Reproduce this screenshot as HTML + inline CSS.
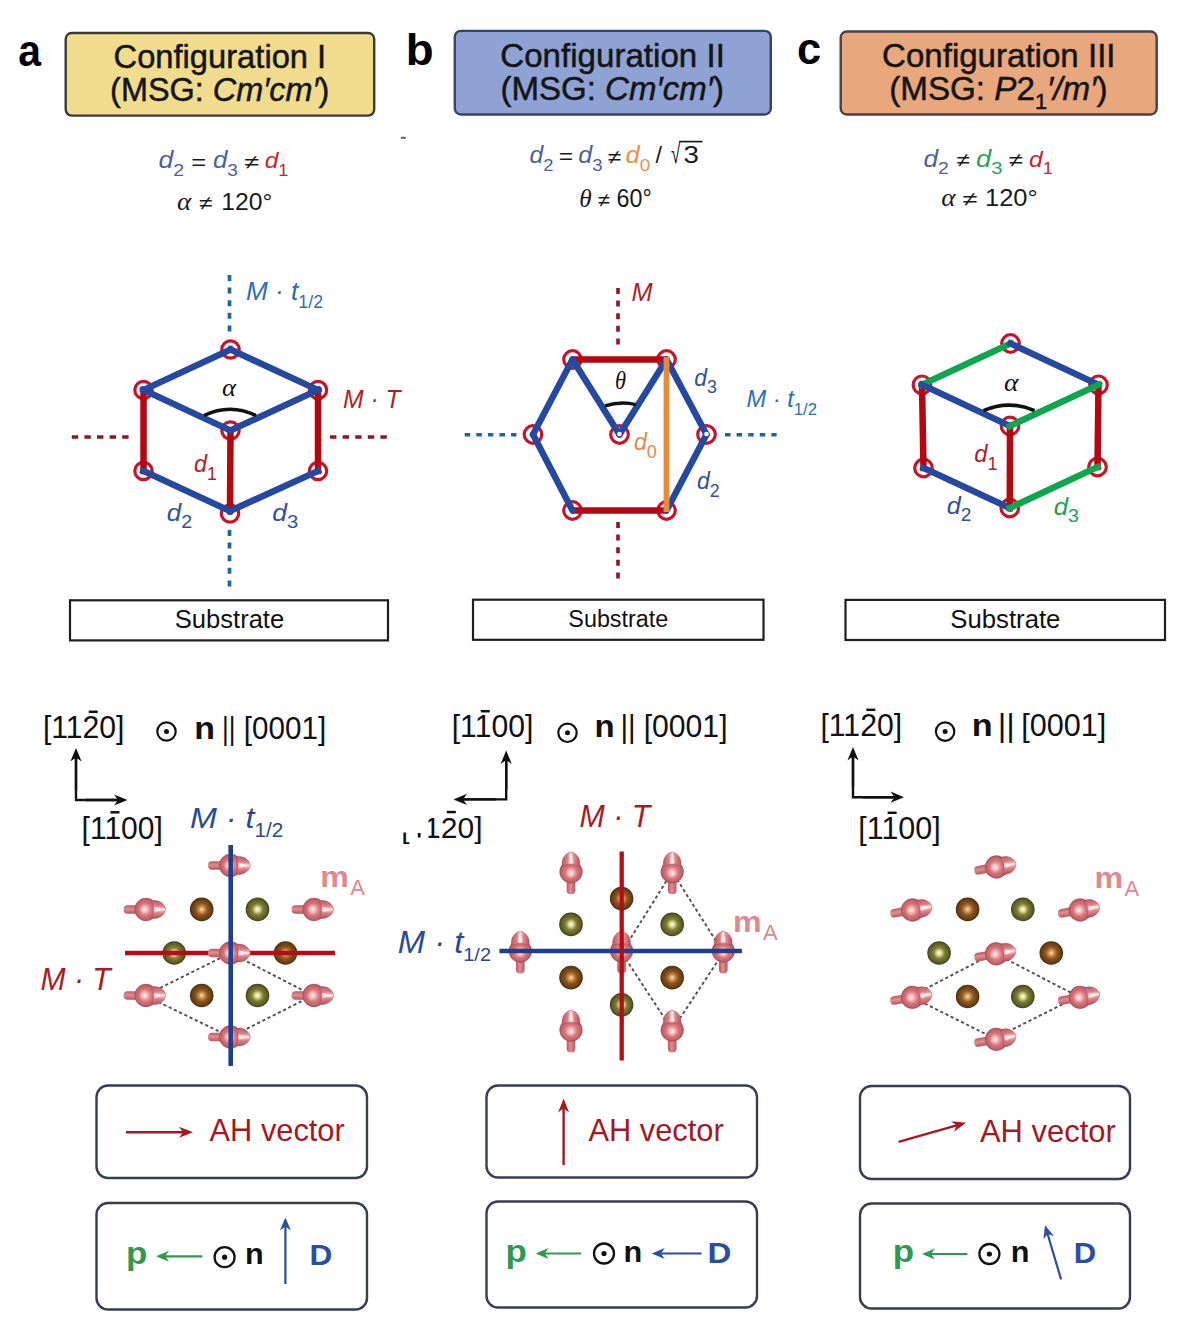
<!DOCTYPE html>
<html><head><meta charset="utf-8"><title>Configurations I-III</title>
<style>html,body{margin:0;padding:0;background:#fff;overflow:hidden} svg{display:block} text{white-space:pre}</style></head>
<body><svg width="1188" height="1334" viewBox="0 0 1188 1334">
<defs>
<radialGradient id="gpink" cx="0.5" cy="0.5" r="0.5" fx="0.42" fy="0.5">
 <stop offset="0" stop-color="#fffafa"/><stop offset="0.26" stop-color="#f4b6b8"/><stop offset="0.55" stop-color="#d87478"/><stop offset="0.85" stop-color="#c2626a"/><stop offset="1" stop-color="#a04c56"/></radialGradient>
<linearGradient id="gcyl" x1="0" y1="0" x2="0" y2="1"><stop offset="0" stop-color="#b85a62"/><stop offset="0.45" stop-color="#e48c90"/><stop offset="1" stop-color="#b05860"/></linearGradient>
<linearGradient id="gcone" x1="0" y1="0" x2="0" y2="1"><stop offset="0" stop-color="#b85a62"/><stop offset="0.3" stop-color="#dc8088"/><stop offset="0.5" stop-color="#fbd8d8"/><stop offset="0.7" stop-color="#dc8088"/><stop offset="1" stop-color="#b05660"/></linearGradient>
<radialGradient id="gbrown" cx="0.5" cy="0.5" r="0.5" fx="0.5" fy="0.5">
 <stop offset="0" stop-color="#ffe4b4"/><stop offset="0.2" stop-color="#d89c5a"/><stop offset="0.5" stop-color="#8c5620"/><stop offset="0.85" stop-color="#663e12"/><stop offset="1" stop-color="#4a2c0c"/></radialGradient>
<radialGradient id="golive" cx="0.5" cy="0.5" r="0.5" fx="0.5" fy="0.5">
 <stop offset="0" stop-color="#ffffd8"/><stop offset="0.2" stop-color="#dcdc98"/><stop offset="0.48" stop-color="#7e7e36"/><stop offset="0.85" stop-color="#5a5a24"/><stop offset="1" stop-color="#3e3e18"/></radialGradient>
</defs>
<rect width="1188" height="1334" fill="#fff"/>
<rect x="65.7" y="33.0" width="308.5" height="82.6" rx="6" ry="6" fill="#f1dc8e" stroke="#3a3a3a" stroke-width="2.4"/>
<rect x="454.8" y="30.9" width="316.0" height="83.6" rx="6" ry="6" fill="#8fa2d4" stroke="#34446a" stroke-width="2.4"/>
<rect x="840.7" y="31.5" width="316.0000000000001" height="83.0" rx="6" ry="6" fill="#e9a77e" stroke="#4a4048" stroke-width="2.4"/>
<text transform="matrix(0.9790 0 0 1 113.54 68.20)" font-family="'Liberation Sans', Arial, Helvetica, sans-serif" font-style="normal" font-weight="normal" font-size="33.4" fill="#151515" stroke="#151515" stroke-width="0.5">Configuration I</text>
<text transform="matrix(0.9705 0 0 1 110.09 100.70)" font-family="'Liberation Sans', Arial, Helvetica, sans-serif" font-style="normal" font-weight="normal" font-size="33.4" fill="#151515" stroke="#151515" stroke-width="0.5">(MSG: </text>
<text transform="matrix(0.9705 0 0 1 212.74 100.70)" font-family="'Liberation Sans', Arial, Helvetica, sans-serif" font-style="italic" font-weight="normal" font-size="33.4" fill="#151515" stroke="#151515" stroke-width="0.5">Cm′cm′</text>
<text transform="matrix(0.9705 0 0 1 318.52 100.70)" font-family="'Liberation Sans', Arial, Helvetica, sans-serif" font-style="normal" font-weight="normal" font-size="33.4" fill="#151515" stroke="#151515" stroke-width="0.5">)</text>
<text transform="matrix(0.9922 0 0 1 500.22 67.20)" font-family="'Liberation Sans', Arial, Helvetica, sans-serif" font-style="normal" font-weight="normal" font-size="33.4" fill="#151515" stroke="#151515" stroke-width="0.5">Configuration II</text>
<text transform="matrix(0.9895 0 0 1 500.45 99.80)" font-family="'Liberation Sans', Arial, Helvetica, sans-serif" font-style="normal" font-weight="normal" font-size="33.4" fill="#151515" stroke="#151515" stroke-width="0.5">(MSG: </text>
<text transform="matrix(0.9895 0 0 1 605.10 99.80)" font-family="'Liberation Sans', Arial, Helvetica, sans-serif" font-style="italic" font-weight="normal" font-size="33.4" fill="#151515" stroke="#151515" stroke-width="0.5">Cm′cm′</text>
<text transform="matrix(0.9895 0 0 1 712.94 99.80)" font-family="'Liberation Sans', Arial, Helvetica, sans-serif" font-style="normal" font-weight="normal" font-size="33.4" fill="#151515" stroke="#151515" stroke-width="0.5">)</text>
<text transform="matrix(0.9904 0 0 1 882.02 67.20)" font-family="'Liberation Sans', Arial, Helvetica, sans-serif" font-style="normal" font-weight="normal" font-size="33.4" fill="#151515" stroke="#151515" stroke-width="0.5">Configuration III</text>
<text transform="matrix(0.9937 0 0 1 889.24 99.80)" font-family="'Liberation Sans', Arial, Helvetica, sans-serif" font-style="normal" font-weight="normal" font-size="33.4" fill="#151515" stroke="#151515" stroke-width="0.5">(MSG: </text>
<text transform="matrix(0.9937 0 0 1 994.34 99.80)" font-family="'Liberation Sans', Arial, Helvetica, sans-serif" font-style="italic" font-weight="normal" font-size="33.4" fill="#151515" stroke="#151515" stroke-width="0.5">P</text>
<text transform="matrix(0.9937 0 0 1 1016.47 99.80)" font-family="'Liberation Sans', Arial, Helvetica, sans-serif" font-style="normal" font-weight="normal" font-size="33.4" fill="#151515" stroke="#151515" stroke-width="0.5">2</text>
<text transform="matrix(0.9937 0 0 1 1034.93 108.80)" font-family="'Liberation Sans', Arial, Helvetica, sans-serif" font-style="normal" font-weight="normal" font-size="22" fill="#151515" stroke="#151515" stroke-width="0.5">1</text>
<text transform="matrix(0.9937 0 0 1 1047.09 99.80)" font-family="'Liberation Sans', Arial, Helvetica, sans-serif" font-style="italic" font-weight="normal" font-size="33.4" fill="#151515" stroke="#151515" stroke-width="0.5">′/m′</text>
<text transform="matrix(0.9937 0 0 1 1096.41 99.80)" font-family="'Liberation Sans', Arial, Helvetica, sans-serif" font-style="normal" font-weight="normal" font-size="33.4" fill="#151515" stroke="#151515" stroke-width="0.5">)</text>
<text transform="matrix(0.9292 0 0 1 18.20 66.30)" font-family="'Liberation Sans', Arial, Helvetica, sans-serif" font-style="normal" font-weight="bold" font-size="44" fill="#000">a</text>
<text transform="matrix(1.0374 0 0 1 405.79 65.40)" font-family="'Liberation Sans', Arial, Helvetica, sans-serif" font-style="normal" font-weight="bold" font-size="44" fill="#000">b</text>
<text transform="matrix(0.9878 0 0 1 797.10 63.60)" font-family="'Liberation Sans', Arial, Helvetica, sans-serif" font-style="normal" font-weight="bold" font-size="44" fill="#000">c</text>
<rect x="400.8" y="136.8" width="5" height="2" fill="#666"/>
<text transform="matrix(1.1544 0 0 1 158.61 168.30)" font-family="'Liberation Sans', Arial, Helvetica, sans-serif" font-style="italic" font-weight="normal" font-size="23" fill="#4a62a0">d</text>
<text transform="matrix(1.1544 0 0 1 173.37 175.90)" font-family="'Liberation Sans', Arial, Helvetica, sans-serif" font-style="normal" font-weight="normal" font-size="17" fill="#4a62a0">2</text>
<text transform="matrix(1.1601 0 0 1 191.35 169.50)" font-family="'Liberation Sans', Arial, Helvetica, sans-serif" font-style="normal" font-weight="normal" font-size="22" fill="#1a1a1a">=</text>
<text transform="matrix(1.1243 0 0 1 212.93 168.30)" font-family="'Liberation Sans', Arial, Helvetica, sans-serif" font-style="italic" font-weight="normal" font-size="23" fill="#4a62a0">d</text>
<text transform="matrix(1.1243 0 0 1 227.31 175.90)" font-family="'Liberation Sans', Arial, Helvetica, sans-serif" font-style="normal" font-weight="normal" font-size="17" fill="#4a62a0">3</text>
<text transform="matrix(1.3688 0 0 1 244.43 168.80)" font-family="'Liberation Sans', Arial, Helvetica, sans-serif" font-style="normal" font-weight="normal" font-size="20" fill="#1a1a1a">≠</text>
<text transform="matrix(1.0707 0 0 1 264.67 168.30)" font-family="'Liberation Sans', Arial, Helvetica, sans-serif" font-style="italic" font-weight="normal" font-size="23" fill="#c42630">d</text>
<text transform="matrix(1.0707 0 0 1 278.37 175.90)" font-family="'Liberation Sans', Arial, Helvetica, sans-serif" font-style="normal" font-weight="normal" font-size="17" fill="#c42630">1</text>
<text transform="matrix(1.0865 0 0 1 177.09 210.10)" font-family="'Liberation Serif', 'Times New Roman', serif" font-style="italic" font-weight="normal" font-size="25" fill="#1a1a1a">α</text>
<text transform="matrix(1.2350 0 0 1 199.32 210.10)" font-family="'Liberation Sans', Arial, Helvetica, sans-serif" font-style="normal" font-weight="normal" font-size="20" fill="#1a1a1a">≠</text>
<text transform="matrix(1.0160 0 0 1 221.32 210.10)" font-family="'Liberation Sans', Arial, Helvetica, sans-serif" font-style="normal" font-weight="normal" font-size="24.3" fill="#1a1a1a">120°</text>
<text transform="matrix(1.0720 0 0 1 529.57 163.00)" font-family="'Liberation Sans', Arial, Helvetica, sans-serif" font-style="italic" font-weight="normal" font-size="23" fill="#4a62a0">d</text>
<text transform="matrix(1.0720 0 0 1 543.28 170.60)" font-family="'Liberation Sans', Arial, Helvetica, sans-serif" font-style="normal" font-weight="normal" font-size="17" fill="#4a62a0">2</text>
<text transform="matrix(1.1227 0 0 1 558.79 164.20)" font-family="'Liberation Sans', Arial, Helvetica, sans-serif" font-style="normal" font-weight="normal" font-size="22" fill="#1a1a1a">=</text>
<text transform="matrix(1.0905 0 0 1 578.35 163.00)" font-family="'Liberation Sans', Arial, Helvetica, sans-serif" font-style="italic" font-weight="normal" font-size="23" fill="#4a62a0">d</text>
<text transform="matrix(1.0905 0 0 1 592.30 170.60)" font-family="'Liberation Sans', Arial, Helvetica, sans-serif" font-style="normal" font-weight="normal" font-size="17" fill="#4a62a0">3</text>
<text transform="matrix(1.2350 0 0 1 608.02 163.50)" font-family="'Liberation Sans', Arial, Helvetica, sans-serif" font-style="normal" font-weight="normal" font-size="20" fill="#1a1a1a">≠</text>
<text transform="matrix(1.1150 0 0 1 625.54 163.00)" font-family="'Liberation Sans', Arial, Helvetica, sans-serif" font-style="italic" font-weight="normal" font-size="23" fill="#e8924e">d</text>
<text transform="matrix(1.1150 0 0 1 639.80 170.60)" font-family="'Liberation Sans', Arial, Helvetica, sans-serif" font-style="normal" font-weight="normal" font-size="17" fill="#e8924e">0</text>
<text transform="matrix(1.0172 0 0 1 655.50 163.00)" font-family="'Liberation Sans', Arial, Helvetica, sans-serif" font-style="normal" font-weight="normal" font-size="23" fill="#1a1a1a">/</text>
<text transform="matrix(0.6146 0 0 1 671.07 163.00)" font-family="'Liberation Sans', Arial, Helvetica, sans-serif" font-style="normal" font-weight="normal" font-size="28" fill="#1a1a1a">√</text>
<text transform="matrix(1.1513 0 0 1 683.45 163.00)" font-family="'Liberation Sans', Arial, Helvetica, sans-serif" font-style="normal" font-weight="normal" font-size="24" fill="#1a1a1a">3</text>
<line x1="679.2" y1="141.6" x2="702.5" y2="141.6" stroke="#1a1a1a" stroke-width="1.7" stroke-linecap="butt" />
<text transform="matrix(0.9731 0 0 1 579.36 207.30)" font-family="'Liberation Serif', 'Times New Roman', serif" font-style="italic" font-weight="normal" font-size="26" fill="#1a1a1a">θ</text>
<text transform="matrix(1.0909 0 0 1 597.71 207.30)" font-family="'Liberation Sans', Arial, Helvetica, sans-serif" font-style="normal" font-weight="normal" font-size="20" fill="#1a1a1a">≠</text>
<text transform="matrix(0.9343 0 0 1 616.52 207.30)" font-family="'Liberation Sans', Arial, Helvetica, sans-serif" font-style="normal" font-weight="normal" font-size="24.9" fill="#1a1a1a">60°</text>
<text transform="matrix(1.1399 0 0 1 923.42 166.50)" font-family="'Liberation Sans', Arial, Helvetica, sans-serif" font-style="italic" font-weight="normal" font-size="23" fill="#4a62a0">d</text>
<text transform="matrix(1.1399 0 0 1 938.00 174.10)" font-family="'Liberation Sans', Arial, Helvetica, sans-serif" font-style="normal" font-weight="normal" font-size="17" fill="#4a62a0">2</text>
<text transform="matrix(1.2144 0 0 1 956.13 167.00)" font-family="'Liberation Sans', Arial, Helvetica, sans-serif" font-style="normal" font-weight="normal" font-size="20" fill="#1a1a1a">≠</text>
<text transform="matrix(1.1870 0 0 1 975.98 166.50)" font-family="'Liberation Sans', Arial, Helvetica, sans-serif" font-style="italic" font-weight="normal" font-size="23" fill="#2ea060">d</text>
<text transform="matrix(1.1870 0 0 1 991.16 174.10)" font-family="'Liberation Sans', Arial, Helvetica, sans-serif" font-style="normal" font-weight="normal" font-size="17" fill="#2ea060">3</text>
<text transform="matrix(1.2967 0 0 1 1008.88 167.00)" font-family="'Liberation Sans', Arial, Helvetica, sans-serif" font-style="normal" font-weight="normal" font-size="20" fill="#1a1a1a">≠</text>
<text transform="matrix(1.0707 0 0 1 1029.07 166.50)" font-family="'Liberation Sans', Arial, Helvetica, sans-serif" font-style="italic" font-weight="normal" font-size="23" fill="#c42630">d</text>
<text transform="matrix(1.0707 0 0 1 1042.77 174.10)" font-family="'Liberation Sans', Arial, Helvetica, sans-serif" font-style="normal" font-weight="normal" font-size="17" fill="#c42630">1</text>
<text transform="matrix(1.0865 0 0 1 941.29 206.30)" font-family="'Liberation Serif', 'Times New Roman', serif" font-style="italic" font-weight="normal" font-size="25" fill="#1a1a1a">α</text>
<text transform="matrix(1.3688 0 0 1 962.73 206.30)" font-family="'Liberation Sans', Arial, Helvetica, sans-serif" font-style="normal" font-weight="normal" font-size="20" fill="#1a1a1a">≠</text>
<text transform="matrix(1.0479 0 0 1 985.06 206.30)" font-family="'Liberation Sans', Arial, Helvetica, sans-serif" font-style="normal" font-weight="normal" font-size="24.3" fill="#1a1a1a">120°</text>
<line x1="229.5" y1="275" x2="229.5" y2="332" stroke="#22659a" stroke-width="3.7" stroke-linecap="butt" stroke-dasharray="6,6.6" />
<line x1="229.5" y1="530" x2="229.5" y2="587" stroke="#22659a" stroke-width="3.7" stroke-linecap="butt" stroke-dasharray="6,6.6" />
<line x1="71.8" y1="437" x2="129" y2="437" stroke="#901424" stroke-width="3.6" stroke-linecap="butt" stroke-dasharray="6.4,6.2" />
<line x1="330" y1="437" x2="388" y2="437" stroke="#901424" stroke-width="3.6" stroke-linecap="butt" stroke-dasharray="6.4,6.2" />
<circle cx="230.5" cy="349.5" r="8.7" fill="none" stroke="#c8142a" stroke-width="3.2"/>
<circle cx="143.5" cy="390" r="8.7" fill="none" stroke="#c8142a" stroke-width="3.2"/>
<circle cx="318" cy="390" r="8.7" fill="none" stroke="#c8142a" stroke-width="3.2"/>
<circle cx="230.5" cy="430.5" r="8.7" fill="none" stroke="#c8142a" stroke-width="3.2"/>
<circle cx="143.5" cy="471" r="8.7" fill="none" stroke="#c8142a" stroke-width="3.2"/>
<circle cx="318" cy="471" r="8.7" fill="none" stroke="#c8142a" stroke-width="3.2"/>
<circle cx="230" cy="513.5" r="8.7" fill="none" stroke="#c8142a" stroke-width="3.2"/>
<line x1="143.5" y1="390" x2="143.5" y2="471" stroke="#b6060f" stroke-width="6.5" stroke-linecap="square" />
<line x1="230.5" y1="430.5" x2="230" y2="511" stroke="#b6060f" stroke-width="6.5" stroke-linecap="square" />
<line x1="318" y1="390" x2="318" y2="471" stroke="#b6060f" stroke-width="6.5" stroke-linecap="square" />
<line x1="230.5" y1="349.5" x2="143.5" y2="390" stroke="#24499f" stroke-width="6.5" stroke-linecap="square" />
<line x1="230.5" y1="349.5" x2="318" y2="390" stroke="#24499f" stroke-width="6.5" stroke-linecap="square" />
<line x1="143.5" y1="390" x2="230.5" y2="430.5" stroke="#24499f" stroke-width="6.5" stroke-linecap="square" />
<line x1="230.5" y1="430.5" x2="318" y2="390" stroke="#24499f" stroke-width="6.5" stroke-linecap="square" />
<line x1="143.5" y1="471" x2="230" y2="511" stroke="#24499f" stroke-width="6.5" stroke-linecap="square" />
<line x1="230" y1="511" x2="318" y2="471" stroke="#24499f" stroke-width="6.5" stroke-linecap="square" />
<path d="M204,415.5 Q230,403 256,415.5" fill="none" stroke="#111" stroke-width="3.5"/>
<text transform="matrix(1.0709 0 0 1 222.00 395.70)" font-family="'Liberation Serif', 'Times New Roman', serif" font-style="italic" font-weight="normal" font-size="25" fill="#111">α</text>
<text transform="matrix(1.0111 0 0 1 245.99 300.40)" font-family="'Liberation Sans', Arial, Helvetica, sans-serif" font-style="italic" font-weight="normal" font-size="25.9" fill="#2b70b2">M · t</text>
<text transform="matrix(1.0111 0 0 1 298.36 307.60)" font-family="'Liberation Sans', Arial, Helvetica, sans-serif" font-style="normal" font-weight="normal" font-size="17.6" fill="#2b70b2">1/2</text>
<text transform="matrix(0.9442 0 0 1 343.04 407.80)" font-family="'Liberation Sans', Arial, Helvetica, sans-serif" font-style="italic" font-weight="normal" font-size="26.2" fill="#b41c26">M · T</text>
<text transform="matrix(0.9926 0 0 1 194.01 472.40)" font-family="'Liberation Sans', Arial, Helvetica, sans-serif" font-style="italic" font-weight="normal" font-size="23.5" fill="#b81a28">d</text>
<text transform="matrix(0.9926 0 0 1 206.99 479.80)" font-family="'Liberation Sans', Arial, Helvetica, sans-serif" font-style="normal" font-weight="normal" font-size="17.9" fill="#b81a28">1</text>
<text transform="matrix(1.1016 0 0 1 166.83 520.70)" font-family="'Liberation Sans', Arial, Helvetica, sans-serif" font-style="italic" font-weight="normal" font-size="23.5" fill="#34509a">d</text>
<text transform="matrix(1.1016 0 0 1 181.23 528.10)" font-family="'Liberation Sans', Arial, Helvetica, sans-serif" font-style="normal" font-weight="normal" font-size="17.9" fill="#34509a">2</text>
<text transform="matrix(1.1284 0 0 1 272.21 520.70)" font-family="'Liberation Sans', Arial, Helvetica, sans-serif" font-style="italic" font-weight="normal" font-size="23.5" fill="#34509a">d</text>
<text transform="matrix(1.1284 0 0 1 286.95 528.10)" font-family="'Liberation Sans', Arial, Helvetica, sans-serif" font-style="normal" font-weight="normal" font-size="17.9" fill="#34509a">3</text>
<line x1="618" y1="288" x2="618" y2="347" stroke="#901424" stroke-width="3.6" stroke-linecap="butt" stroke-dasharray="6,6.6" />
<line x1="618" y1="522" x2="618" y2="579" stroke="#901424" stroke-width="3.6" stroke-linecap="butt" stroke-dasharray="6,6.6" />
<line x1="464.7" y1="434.7" x2="516.4" y2="434.7" stroke="#22659a" stroke-width="3.5" stroke-linecap="butt" stroke-dasharray="5.5,6.1" />
<line x1="725" y1="434.7" x2="776.7" y2="434.7" stroke="#22659a" stroke-width="3.5" stroke-linecap="butt" stroke-dasharray="5.5,6.1" />
<circle cx="572.5" cy="359.5" r="8.8" fill="none" stroke="#c8142a" stroke-width="3.2"/>
<circle cx="666.5" cy="359.5" r="8.8" fill="none" stroke="#c8142a" stroke-width="3.2"/>
<circle cx="533" cy="434.5" r="8.8" fill="none" stroke="#c8142a" stroke-width="3.2"/>
<circle cx="619.5" cy="434.5" r="8.8" fill="none" stroke="#c8142a" stroke-width="3.2"/>
<circle cx="706.5" cy="434.5" r="8.8" fill="none" stroke="#c8142a" stroke-width="3.2"/>
<circle cx="572.5" cy="510.5" r="8.8" fill="none" stroke="#c8142a" stroke-width="3.2"/>
<circle cx="666.5" cy="510.5" r="8.8" fill="none" stroke="#c8142a" stroke-width="3.2"/>
<line x1="572.5" y1="359.5" x2="666.5" y2="359.5" stroke="#b6060f" stroke-width="6.5" stroke-linecap="butt" />
<line x1="572.5" y1="510.5" x2="666.5" y2="510.5" stroke="#b6060f" stroke-width="6.5" stroke-linecap="butt" />
<line x1="572.5" y1="359.5" x2="533" y2="434.5" stroke="#24499f" stroke-width="6.5" stroke-linecap="round" />
<line x1="533" y1="434.5" x2="572.5" y2="510.5" stroke="#24499f" stroke-width="6.5" stroke-linecap="round" />
<line x1="572.5" y1="359.5" x2="619.5" y2="434.5" stroke="#24499f" stroke-width="6.5" stroke-linecap="round" />
<line x1="619.5" y1="434.5" x2="666.5" y2="359.5" stroke="#24499f" stroke-width="6.5" stroke-linecap="round" />
<line x1="666.5" y1="359.5" x2="706.5" y2="434.5" stroke="#24499f" stroke-width="6.5" stroke-linecap="round" />
<line x1="706.5" y1="434.5" x2="666.5" y2="510.5" stroke="#24499f" stroke-width="6.5" stroke-linecap="round" />
<circle cx="619.5" cy="434.0" r="2.3" fill="#fff"/>
<circle cx="706.5" cy="434.0" r="2.3" fill="#fff"/>
<line x1="666.5" y1="357" x2="666.5" y2="512" stroke="#e68a3c" stroke-width="5.8" stroke-linecap="butt" />
<path d="M605,405.8 Q620.5,401 636,404.6" fill="none" stroke="#111" stroke-width="3.5"/>
<text transform="matrix(0.8975 0 0 1 614.90 388.90)" font-family="'Liberation Serif', 'Times New Roman', serif" font-style="italic" font-weight="normal" font-size="25" fill="#111">θ</text>
<text transform="matrix(0.9884 0 0 1 631.62 300.60)" font-family="'Liberation Sans', Arial, Helvetica, sans-serif" font-style="italic" font-weight="normal" font-size="25.6" fill="#b41c26">M</text>
<text transform="matrix(0.9913 0 0 1 694.23 385.70)" font-family="'Liberation Sans', Arial, Helvetica, sans-serif" font-style="italic" font-weight="normal" font-size="23" fill="#34509a">d</text>
<text transform="matrix(0.9913 0 0 1 706.91 393.10)" font-family="'Liberation Sans', Arial, Helvetica, sans-serif" font-style="normal" font-weight="normal" font-size="17.9" fill="#34509a">3</text>
<text transform="matrix(0.9693 0 0 1 746.57 406.70)" font-family="'Liberation Sans', Arial, Helvetica, sans-serif" font-style="italic" font-weight="normal" font-size="24.4" fill="#2b70b2">M · t</text>
<text transform="matrix(0.9693 0 0 1 793.86 414.60)" font-family="'Liberation Sans', Arial, Helvetica, sans-serif" font-style="normal" font-weight="normal" font-size="17.2" fill="#2b70b2">1/2</text>
<text transform="matrix(1.0107 0 0 1 633.92 450.30)" font-family="'Liberation Sans', Arial, Helvetica, sans-serif" font-style="italic" font-weight="normal" font-size="23" fill="#e48a44">d</text>
<text transform="matrix(1.0107 0 0 1 646.85 457.70)" font-family="'Liberation Sans', Arial, Helvetica, sans-serif" font-style="normal" font-weight="normal" font-size="17.9" fill="#e48a44">0</text>
<text transform="matrix(0.9966 0 0 1 696.93 489.10)" font-family="'Liberation Sans', Arial, Helvetica, sans-serif" font-style="italic" font-weight="normal" font-size="23" fill="#34509a">d</text>
<text transform="matrix(0.9966 0 0 1 709.68 496.50)" font-family="'Liberation Sans', Arial, Helvetica, sans-serif" font-style="normal" font-weight="normal" font-size="17.9" fill="#34509a">2</text>
<circle cx="1010.5" cy="343.5" r="8.8" fill="none" stroke="#c8142a" stroke-width="3.2"/>
<circle cx="922" cy="384.8" r="8.8" fill="none" stroke="#c8142a" stroke-width="3.2"/>
<circle cx="1098.5" cy="384.8" r="8.8" fill="none" stroke="#c8142a" stroke-width="3.2"/>
<circle cx="1010" cy="426" r="8.8" fill="none" stroke="#c8142a" stroke-width="3.2"/>
<circle cx="923.5" cy="468" r="8.8" fill="none" stroke="#c8142a" stroke-width="3.2"/>
<circle cx="1097.5" cy="467" r="8.8" fill="none" stroke="#c8142a" stroke-width="3.2"/>
<circle cx="1009.8" cy="508" r="8.8" fill="none" stroke="#c8142a" stroke-width="3.2"/>
<line x1="922" y1="384.8" x2="923.5" y2="468" stroke="#b6060f" stroke-width="6.5" stroke-linecap="square" />
<line x1="1010" y1="426" x2="1009.8" y2="508" stroke="#b6060f" stroke-width="6.5" stroke-linecap="square" />
<line x1="1098.5" y1="384.8" x2="1097.5" y2="467" stroke="#b6060f" stroke-width="6.5" stroke-linecap="square" />
<line x1="922" y1="384.8" x2="1010.5" y2="343.5" stroke="#0ca64c" stroke-width="6.5" stroke-linecap="square" />
<line x1="1010.5" y1="343.5" x2="1098.5" y2="384.8" stroke="#24499f" stroke-width="6.5" stroke-linecap="square" />
<line x1="922" y1="384.8" x2="1010" y2="426" stroke="#24499f" stroke-width="6.5" stroke-linecap="square" />
<line x1="1010" y1="426" x2="1098.5" y2="384.8" stroke="#0ca64c" stroke-width="6.5" stroke-linecap="square" />
<line x1="923.5" y1="468" x2="1009.8" y2="508" stroke="#24499f" stroke-width="6.5" stroke-linecap="square" />
<line x1="1009.8" y1="508" x2="1097.5" y2="467" stroke="#0ca64c" stroke-width="6.5" stroke-linecap="square" />
<path d="M983.5,410.6 Q1009,399.5 1034.5,410.6" fill="none" stroke="#111" stroke-width="3.7"/>
<text transform="matrix(1.1022 0 0 1 1004.08 391.30)" font-family="'Liberation Serif', 'Times New Roman', serif" font-style="italic" font-weight="normal" font-size="25" fill="#111">α</text>
<text transform="matrix(1.0113 0 0 1 974.30 462.30)" font-family="'Liberation Sans', Arial, Helvetica, sans-serif" font-style="italic" font-weight="normal" font-size="23.5" fill="#b81a28">d</text>
<text transform="matrix(1.0113 0 0 1 987.52 469.70)" font-family="'Liberation Sans', Arial, Helvetica, sans-serif" font-style="normal" font-weight="normal" font-size="17.9" fill="#b81a28">1</text>
<text transform="matrix(1.0735 0 0 1 946.65 513.50)" font-family="'Liberation Sans', Arial, Helvetica, sans-serif" font-style="italic" font-weight="normal" font-size="23.5" fill="#34509a">d</text>
<text transform="matrix(1.0735 0 0 1 960.68 520.90)" font-family="'Liberation Sans', Arial, Helvetica, sans-serif" font-style="normal" font-weight="normal" font-size="17.9" fill="#34509a">2</text>
<text transform="matrix(1.0958 0 0 1 1053.73 514.80)" font-family="'Liberation Sans', Arial, Helvetica, sans-serif" font-style="italic" font-weight="normal" font-size="23.5" fill="#22a055">d</text>
<text transform="matrix(1.0958 0 0 1 1068.05 522.20)" font-family="'Liberation Sans', Arial, Helvetica, sans-serif" font-style="normal" font-weight="normal" font-size="17.9" fill="#22a055">3</text>
<rect x="70" y="600.3" width="318" height="40.10000000000002" fill="#fff" stroke="#1e1e1e" stroke-width="2.2"/>
<rect x="473" y="599.7" width="290.5" height="40.09999999999991" fill="#fff" stroke="#1e1e1e" stroke-width="2.2"/>
<rect x="845.5" y="599.9" width="319.5" height="40.10000000000002" fill="#fff" stroke="#1e1e1e" stroke-width="2.2"/>
<text transform="matrix(1.0233 0 0 1 174.74 628.00)" font-family="'Liberation Sans', Arial, Helvetica, sans-serif" font-style="normal" font-weight="normal" font-size="25" fill="#111">Substrate</text>
<text transform="matrix(0.9497 0 0 1 568.34 627.00)" font-family="'Liberation Sans', Arial, Helvetica, sans-serif" font-style="normal" font-weight="normal" font-size="24.6" fill="#111">Substrate</text>
<text transform="matrix(1.0290 0 0 1 950.33 627.80)" font-family="'Liberation Sans', Arial, Helvetica, sans-serif" font-style="normal" font-weight="normal" font-size="25" fill="#111">Substrate</text>
<text transform="matrix(0.9599 0 0 1 42.95 738.00)" font-family="'Liberation Sans', Arial, Helvetica, sans-serif" font-style="normal" font-weight="normal" font-size="31.4" fill="#111">[1120]</text>
<line x1="88.73120140688634" y1="711.7968" x2="97.73120140688634" y2="711.7968" stroke="#111" stroke-width="2.5" stroke-linecap="butt" />
<circle cx="166.5" cy="731.5" r="9.2" fill="none" stroke="#111" stroke-width="2.2"/><circle cx="166.5" cy="731.5" r="2.5" fill="#111"/>
<text transform="matrix(1.0816 0 0 1 194.36 738.50)" font-family="'Liberation Sans', Arial, Helvetica, sans-serif" font-style="normal" font-weight="bold" font-size="31.4" fill="#111">n</text>
<text transform="matrix(0.8223 0 0 1 222.09 738.50)" font-family="'Liberation Sans', Arial, Helvetica, sans-serif" font-style="normal" font-weight="normal" font-size="31.4" fill="#111">||</text>
<text transform="matrix(0.9442 0 0 1 243.79 738.50)" font-family="'Liberation Sans', Arial, Helvetica, sans-serif" font-style="normal" font-weight="normal" font-size="31.4" fill="#111">[0001]</text>
<path d="M76,756 L76,800 L119.5,800" fill="none" stroke="#111" stroke-width="2.4" stroke-linejoin="miter"/>
<line x1="76.00" y1="790.00" x2="76.00" y2="756.45" stroke="#111" stroke-width="2.4"/>
<path d="M76.00,748.00 L81.60,761.50 L76.00,757.45 L70.40,761.50 Z" fill="#111"/>
<line x1="86.00" y1="800.00" x2="119.05" y2="800.00" stroke="#111" stroke-width="2.4"/>
<path d="M127.50,800.00 L114.00,805.60 L118.05,800.00 L114.00,794.40 Z" fill="#111"/>
<text transform="matrix(0.9575 0 0 1 81.56 838.50)" font-family="'Liberation Sans', Arial, Helvetica, sans-serif" font-style="normal" font-weight="normal" font-size="31.4" fill="#111">[1100]</text>
<line x1="110.48988337652722" y1="812.2968" x2="119.48988337652722" y2="812.2968" stroke="#111" stroke-width="2.5" stroke-linecap="butt" />
<text transform="matrix(0.9599 0 0 1 451.75 737.40)" font-family="'Liberation Sans', Arial, Helvetica, sans-serif" font-style="normal" font-weight="normal" font-size="31.4" fill="#111">[1100]</text>
<line x1="480.7687985931136" y1="711.1967999999999" x2="489.7687985931136" y2="711.1967999999999" stroke="#111" stroke-width="2.5" stroke-linecap="butt" />
<circle cx="567.5" cy="732.8" r="9.2" fill="none" stroke="#111" stroke-width="2.2"/><circle cx="567.5" cy="732.8" r="2.5" fill="#111"/>
<text transform="matrix(1.0486 0 0 1 594.43 737.40)" font-family="'Liberation Sans', Arial, Helvetica, sans-serif" font-style="normal" font-weight="bold" font-size="31.4" fill="#111">n</text>
<text transform="matrix(0.9344 0 0 1 620.38 737.40)" font-family="'Liberation Sans', Arial, Helvetica, sans-serif" font-style="normal" font-weight="normal" font-size="31.4" fill="#111">||</text>
<text transform="matrix(0.9611 0 0 1 643.65 737.40)" font-family="'Liberation Sans', Arial, Helvetica, sans-serif" font-style="normal" font-weight="normal" font-size="31.4" fill="#111">[0001]</text>
<path d="M506.2,758.5 L506.2,799.4 L461.5,799.4" fill="none" stroke="#111" stroke-width="2.4" stroke-linejoin="miter"/>
<line x1="506.20" y1="789.40" x2="506.20" y2="758.95" stroke="#111" stroke-width="2.4"/>
<path d="M506.20,750.50 L511.80,764.00 L506.20,759.95 L500.60,764.00 Z" fill="#111"/>
<line x1="496.20" y1="799.40" x2="461.95" y2="799.40" stroke="#111" stroke-width="2.4"/>
<path d="M453.50,799.40 L467.00,793.80 L462.95,799.40 L467.00,805.00 Z" fill="#111"/>
<text transform="matrix(0.9910 0 0 1 401.26 837.50)" font-family="'Liberation Sans', Arial, Helvetica, sans-serif" font-style="normal" font-weight="normal" font-size="30.3" fill="#111">[1120]</text>
<line x1="446.84957423176604" y1="812.0536" x2="455.84957423176604" y2="812.0536" stroke="#111" stroke-width="2.5" stroke-linecap="butt" />
<rect x="399" y="806" width="29.5" height="26.5" fill="#fff"/>
<rect x="409.6" y="830" width="19" height="10" fill="#fff"/>
<rect x="417.8" y="833" width="2.8" height="4.5" fill="#111"/>
<text transform="matrix(0.9611 0 0 1 820.45 736.00)" font-family="'Liberation Sans', Arial, Helvetica, sans-serif" font-style="normal" font-weight="normal" font-size="31.4" fill="#111">[1120]</text>
<line x1="866.2917437985932" y1="709.7968" x2="875.2917437985932" y2="709.7968" stroke="#111" stroke-width="2.5" stroke-linecap="butt" />
<circle cx="945.1" cy="731.6" r="9.2" fill="none" stroke="#111" stroke-width="2.2"/><circle cx="945.1" cy="731.6" r="2.5" fill="#111"/>
<text transform="matrix(1.0881 0 0 1 971.85 736.00)" font-family="'Liberation Sans', Arial, Helvetica, sans-serif" font-style="normal" font-weight="bold" font-size="31.4" fill="#111">n</text>
<text transform="matrix(1.0559 0 0 1 997.74 736.00)" font-family="'Liberation Sans', Arial, Helvetica, sans-serif" font-style="normal" font-weight="normal" font-size="31.4" fill="#111">||</text>
<text transform="matrix(0.9756 0 0 1 1021.22 736.00)" font-family="'Liberation Sans', Arial, Helvetica, sans-serif" font-style="normal" font-weight="normal" font-size="31.4" fill="#111">[0001]</text>
<path d="M853,755 L853,797.2 L896,797.2" fill="none" stroke="#111" stroke-width="2.4" stroke-linejoin="miter"/>
<line x1="853.00" y1="787.20" x2="853.00" y2="755.45" stroke="#111" stroke-width="2.4"/>
<path d="M853.00,747.00 L858.60,760.50 L853.00,756.45 L847.40,760.50 Z" fill="#111"/>
<line x1="863.00" y1="797.20" x2="895.55" y2="797.20" stroke="#111" stroke-width="2.4"/>
<path d="M904.00,797.20 L890.50,802.80 L894.55,797.20 L890.50,791.60 Z" fill="#111"/>
<text transform="matrix(0.9707 0 0 1 858.23 839.00)" font-family="'Liberation Sans', Arial, Helvetica, sans-serif" font-style="normal" font-weight="normal" font-size="31.4" fill="#111">[1100]</text>
<line x1="887.6239170677527" y1="812.7968" x2="896.6239170677527" y2="812.7968" stroke="#111" stroke-width="2.5" stroke-linecap="butt" />
<path d="M230.5,953 L145,995.5 L230.5,1037 L313,995.5 L230.5,953" fill="none" stroke="#505050" stroke-width="1.9" stroke-dasharray="3.2,2.6"/>
<circle cx="201.7" cy="909.4" r="11.8" fill="url(#gbrown)"/>
<circle cx="285.5" cy="953" r="11.8" fill="url(#gbrown)"/>
<circle cx="201.7" cy="995.5" r="11.8" fill="url(#gbrown)"/>
<circle cx="257.5" cy="909.4" r="11.8" fill="url(#golive)"/>
<circle cx="174.2" cy="953" r="11.8" fill="url(#golive)"/>
<circle cx="257.5" cy="995.5" r="11.8" fill="url(#golive)"/>
<g transform="translate(230.5,865.5) rotate(0)"><rect x="-22.5" y="-4.3" width="16" height="8.6" rx="4" fill="url(#gcyl)"/><circle cx="0" cy="0" r="11.4" fill="url(#gpink)" stroke="#a85058" stroke-width="0.6" stroke-opacity="0.6"/><path d="M5.5,-8.4 C11,-10.2 18.5,-7 19.8,0 C18.5,7 11,10.2 5.5,8.4 Q9.5,0 5.5,-8.4Z" fill="url(#gcone)" stroke="#a04a55" stroke-width="0.7" stroke-opacity="0.7"/><path d="M9,-2.2 L19.6,0 L9,2.2 Z" fill="#fff4f2" opacity="0.9"/></g>
<g transform="translate(146,909.5) rotate(0)"><rect x="-22.5" y="-4.3" width="16" height="8.6" rx="4" fill="url(#gcyl)"/><circle cx="0" cy="0" r="11.4" fill="url(#gpink)" stroke="#a85058" stroke-width="0.6" stroke-opacity="0.6"/><path d="M5.5,-8.4 C11,-10.2 18.5,-7 19.8,0 C18.5,7 11,10.2 5.5,8.4 Q9.5,0 5.5,-8.4Z" fill="url(#gcone)" stroke="#a04a55" stroke-width="0.7" stroke-opacity="0.7"/><path d="M9,-2.2 L19.6,0 L9,2.2 Z" fill="#fff4f2" opacity="0.9"/></g>
<g transform="translate(314,909.5) rotate(0)"><rect x="-22.5" y="-4.3" width="16" height="8.6" rx="4" fill="url(#gcyl)"/><circle cx="0" cy="0" r="11.4" fill="url(#gpink)" stroke="#a85058" stroke-width="0.6" stroke-opacity="0.6"/><path d="M5.5,-8.4 C11,-10.2 18.5,-7 19.8,0 C18.5,7 11,10.2 5.5,8.4 Q9.5,0 5.5,-8.4Z" fill="url(#gcone)" stroke="#a04a55" stroke-width="0.7" stroke-opacity="0.7"/><path d="M9,-2.2 L19.6,0 L9,2.2 Z" fill="#fff4f2" opacity="0.9"/></g>
<g transform="translate(146,995.5) rotate(0)"><rect x="-22.5" y="-4.3" width="16" height="8.6" rx="4" fill="url(#gcyl)"/><circle cx="0" cy="0" r="11.4" fill="url(#gpink)" stroke="#a85058" stroke-width="0.6" stroke-opacity="0.6"/><path d="M5.5,-8.4 C11,-10.2 18.5,-7 19.8,0 C18.5,7 11,10.2 5.5,8.4 Q9.5,0 5.5,-8.4Z" fill="url(#gcone)" stroke="#a04a55" stroke-width="0.7" stroke-opacity="0.7"/><path d="M9,-2.2 L19.6,0 L9,2.2 Z" fill="#fff4f2" opacity="0.9"/></g>
<g transform="translate(314,995.5) rotate(0)"><rect x="-22.5" y="-4.3" width="16" height="8.6" rx="4" fill="url(#gcyl)"/><circle cx="0" cy="0" r="11.4" fill="url(#gpink)" stroke="#a85058" stroke-width="0.6" stroke-opacity="0.6"/><path d="M5.5,-8.4 C11,-10.2 18.5,-7 19.8,0 C18.5,7 11,10.2 5.5,8.4 Q9.5,0 5.5,-8.4Z" fill="url(#gcone)" stroke="#a04a55" stroke-width="0.7" stroke-opacity="0.7"/><path d="M9,-2.2 L19.6,0 L9,2.2 Z" fill="#fff4f2" opacity="0.9"/></g>
<g transform="translate(230.5,1037) rotate(0)"><rect x="-22.5" y="-4.3" width="16" height="8.6" rx="4" fill="url(#gcyl)"/><circle cx="0" cy="0" r="11.4" fill="url(#gpink)" stroke="#a85058" stroke-width="0.6" stroke-opacity="0.6"/><path d="M5.5,-8.4 C11,-10.2 18.5,-7 19.8,0 C18.5,7 11,10.2 5.5,8.4 Q9.5,0 5.5,-8.4Z" fill="url(#gcone)" stroke="#a04a55" stroke-width="0.7" stroke-opacity="0.7"/><path d="M9,-2.2 L19.6,0 L9,2.2 Z" fill="#fff4f2" opacity="0.9"/></g>
<line x1="125" y1="953" x2="335" y2="953" stroke="#ba0a14" stroke-width="4.3" stroke-linecap="butt" />
<g transform="translate(230.5,953) rotate(0)"><rect x="-22.5" y="-4.3" width="16" height="8.6" rx="4" fill="url(#gcyl)"/><circle cx="0" cy="0" r="11.4" fill="url(#gpink)" stroke="#a85058" stroke-width="0.6" stroke-opacity="0.6"/><path d="M5.5,-8.4 C11,-10.2 18.5,-7 19.8,0 C18.5,7 11,10.2 5.5,8.4 Q9.5,0 5.5,-8.4Z" fill="url(#gcone)" stroke="#a04a55" stroke-width="0.7" stroke-opacity="0.7"/><path d="M9,-2.2 L19.6,0 L9,2.2 Z" fill="#fff4f2" opacity="0.9"/></g>
<line x1="230.7" y1="845" x2="230.7" y2="1066" stroke="#1e3f8f" stroke-width="4.6" stroke-linecap="butt" />
<text transform="matrix(1.0614 0 0 1 189.91 827.80)" font-family="'Liberation Sans', Arial, Helvetica, sans-serif" font-style="italic" font-weight="normal" font-size="30.4" fill="#2a4a90">M · t</text>
<text transform="matrix(1.0614 0 0 1 254.43 836.60)" font-family="'Liberation Sans', Arial, Helvetica, sans-serif" font-style="normal" font-weight="normal" font-size="19.6" fill="#2a4a90">1/2</text>
<text transform="matrix(0.9471 0 0 1 40.47 990.30)" font-family="'Liberation Sans', Arial, Helvetica, sans-serif" font-style="italic" font-weight="normal" font-size="31.8" fill="#b01820">M · T</text>
<text transform="matrix(1.0728 0 0 1 320.28 886.80)" font-family="'Liberation Sans', Arial, Helvetica, sans-serif" font-style="normal" font-weight="bold" font-size="30" fill="#e08890">m</text>
<text transform="matrix(1.0000 0 0 1 350.35 894.60)" font-family="'Liberation Sans', Arial, Helvetica, sans-serif" font-style="normal" font-weight="normal" font-size="22" fill="#e08890">A</text>
<path d="M621.6,952.6 L672.2,871.8 L723.3,952.6 L672.2,1030 L621.6,952.6" fill="none" stroke="#505050" stroke-width="1.9" stroke-dasharray="3.2,2.6"/>
<circle cx="621.6" cy="898.6" r="11.8" fill="url(#gbrown)"/>
<circle cx="571" cy="977.6" r="11.8" fill="url(#gbrown)"/>
<circle cx="672.2" cy="977.6" r="11.8" fill="url(#gbrown)"/>
<circle cx="571" cy="924.4" r="11.8" fill="url(#golive)"/>
<circle cx="672.2" cy="924.4" r="11.8" fill="url(#golive)"/>
<circle cx="621.6" cy="1004.8" r="11.8" fill="url(#golive)"/>
<g transform="translate(571,871.8) rotate(-90)"><rect x="-22.5" y="-4.3" width="16" height="8.6" rx="4" fill="url(#gcyl)"/><circle cx="0" cy="0" r="11.4" fill="url(#gpink)" stroke="#a85058" stroke-width="0.6" stroke-opacity="0.6"/><path d="M5.5,-8.4 C11,-10.2 18.5,-7 19.8,0 C18.5,7 11,10.2 5.5,8.4 Q9.5,0 5.5,-8.4Z" fill="url(#gcone)" stroke="#a04a55" stroke-width="0.7" stroke-opacity="0.7"/><path d="M9,-2.2 L19.6,0 L9,2.2 Z" fill="#fff4f2" opacity="0.9"/></g>
<g transform="translate(672.2,871.8) rotate(-90)"><rect x="-22.5" y="-4.3" width="16" height="8.6" rx="4" fill="url(#gcyl)"/><circle cx="0" cy="0" r="11.4" fill="url(#gpink)" stroke="#a85058" stroke-width="0.6" stroke-opacity="0.6"/><path d="M5.5,-8.4 C11,-10.2 18.5,-7 19.8,0 C18.5,7 11,10.2 5.5,8.4 Q9.5,0 5.5,-8.4Z" fill="url(#gcone)" stroke="#a04a55" stroke-width="0.7" stroke-opacity="0.7"/><path d="M9,-2.2 L19.6,0 L9,2.2 Z" fill="#fff4f2" opacity="0.9"/></g>
<g transform="translate(520.3,951) rotate(-90)"><rect x="-22.5" y="-4.3" width="16" height="8.6" rx="4" fill="url(#gcyl)"/><circle cx="0" cy="0" r="11.4" fill="url(#gpink)" stroke="#a85058" stroke-width="0.6" stroke-opacity="0.6"/><path d="M5.5,-8.4 C11,-10.2 18.5,-7 19.8,0 C18.5,7 11,10.2 5.5,8.4 Q9.5,0 5.5,-8.4Z" fill="url(#gcone)" stroke="#a04a55" stroke-width="0.7" stroke-opacity="0.7"/><path d="M9,-2.2 L19.6,0 L9,2.2 Z" fill="#fff4f2" opacity="0.9"/></g>
<g transform="translate(723.3,951) rotate(-90)"><rect x="-22.5" y="-4.3" width="16" height="8.6" rx="4" fill="url(#gcyl)"/><circle cx="0" cy="0" r="11.4" fill="url(#gpink)" stroke="#a85058" stroke-width="0.6" stroke-opacity="0.6"/><path d="M5.5,-8.4 C11,-10.2 18.5,-7 19.8,0 C18.5,7 11,10.2 5.5,8.4 Q9.5,0 5.5,-8.4Z" fill="url(#gcone)" stroke="#a04a55" stroke-width="0.7" stroke-opacity="0.7"/><path d="M9,-2.2 L19.6,0 L9,2.2 Z" fill="#fff4f2" opacity="0.9"/></g>
<g transform="translate(571,1030) rotate(-90)"><rect x="-22.5" y="-4.3" width="16" height="8.6" rx="4" fill="url(#gcyl)"/><circle cx="0" cy="0" r="11.4" fill="url(#gpink)" stroke="#a85058" stroke-width="0.6" stroke-opacity="0.6"/><path d="M5.5,-8.4 C11,-10.2 18.5,-7 19.8,0 C18.5,7 11,10.2 5.5,8.4 Q9.5,0 5.5,-8.4Z" fill="url(#gcone)" stroke="#a04a55" stroke-width="0.7" stroke-opacity="0.7"/><path d="M9,-2.2 L19.6,0 L9,2.2 Z" fill="#fff4f2" opacity="0.9"/></g>
<g transform="translate(672.2,1030) rotate(-90)"><rect x="-22.5" y="-4.3" width="16" height="8.6" rx="4" fill="url(#gcyl)"/><circle cx="0" cy="0" r="11.4" fill="url(#gpink)" stroke="#a85058" stroke-width="0.6" stroke-opacity="0.6"/><path d="M5.5,-8.4 C11,-10.2 18.5,-7 19.8,0 C18.5,7 11,10.2 5.5,8.4 Q9.5,0 5.5,-8.4Z" fill="url(#gcone)" stroke="#a04a55" stroke-width="0.7" stroke-opacity="0.7"/><path d="M9,-2.2 L19.6,0 L9,2.2 Z" fill="#fff4f2" opacity="0.9"/></g>
<g transform="translate(621.6,951) rotate(-90)"><rect x="-22.5" y="-4.3" width="16" height="8.6" rx="4" fill="url(#gcyl)"/><circle cx="0" cy="0" r="11.4" fill="url(#gpink)" stroke="#a85058" stroke-width="0.6" stroke-opacity="0.6"/><path d="M5.5,-8.4 C11,-10.2 18.5,-7 19.8,0 C18.5,7 11,10.2 5.5,8.4 Q9.5,0 5.5,-8.4Z" fill="url(#gcone)" stroke="#a04a55" stroke-width="0.7" stroke-opacity="0.7"/><path d="M9,-2.2 L19.6,0 L9,2.2 Z" fill="#fff4f2" opacity="0.9"/></g>
<line x1="499.4" y1="951" x2="741.9" y2="951" stroke="#1e3f8f" stroke-width="4.4" stroke-linecap="butt" />
<line x1="621.7" y1="851.5" x2="621.7" y2="1060.5" stroke="#ba0a14" stroke-width="4.3" stroke-linecap="butt" />
<text transform="matrix(0.9628 0 0 1 579.57 826.80)" font-family="'Liberation Sans', Arial, Helvetica, sans-serif" font-style="italic" font-weight="normal" font-size="31.5" fill="#b01820">M · T</text>
<text transform="matrix(1.0561 0 0 1 397.79 952.50)" font-family="'Liberation Sans', Arial, Helvetica, sans-serif" font-style="italic" font-weight="normal" font-size="31" fill="#2a4a90">M · t</text>
<text transform="matrix(1.0561 0 0 1 463.26 961.30)" font-family="'Liberation Sans', Arial, Helvetica, sans-serif" font-style="normal" font-weight="normal" font-size="18.9" fill="#2a4a90">1/2</text>
<text transform="matrix(1.0728 0 0 1 732.88 932.40)" font-family="'Liberation Sans', Arial, Helvetica, sans-serif" font-style="normal" font-weight="bold" font-size="30" fill="#e08890">m</text>
<text transform="matrix(1.0000 0 0 1 762.95 940.20)" font-family="'Liberation Sans', Arial, Helvetica, sans-serif" font-style="normal" font-weight="normal" font-size="22" fill="#e08890">A</text>
<path d="M994.4,953 L910.6,996.5 L994.4,1038.4 L1078.1,996.5 L994.4,953" fill="none" stroke="#505050" stroke-width="1.9" stroke-dasharray="3.2,2.6"/>
<circle cx="967.6" cy="909.4" r="11.8" fill="url(#gbrown)"/>
<circle cx="1051.3" cy="953" r="11.8" fill="url(#gbrown)"/>
<circle cx="967.6" cy="996.5" r="11.8" fill="url(#gbrown)"/>
<circle cx="1022.8" cy="909.4" r="11.8" fill="url(#golive)"/>
<circle cx="939.1" cy="953" r="11.8" fill="url(#golive)"/>
<circle cx="1022.8" cy="996.5" r="11.8" fill="url(#golive)"/>
<g transform="translate(996.5,867) rotate(-10)"><rect x="-22.5" y="-4.3" width="16" height="8.6" rx="4" fill="url(#gcyl)"/><circle cx="0" cy="0" r="11.4" fill="url(#gpink)" stroke="#a85058" stroke-width="0.6" stroke-opacity="0.6"/><path d="M5.5,-8.4 C11,-10.2 18.5,-7 19.8,0 C18.5,7 11,10.2 5.5,8.4 Q9.5,0 5.5,-8.4Z" fill="url(#gcone)" stroke="#a04a55" stroke-width="0.7" stroke-opacity="0.7"/><path d="M9,-2.2 L19.6,0 L9,2.2 Z" fill="#fff4f2" opacity="0.9"/></g>
<g transform="translate(912.5,910) rotate(-10)"><rect x="-22.5" y="-4.3" width="16" height="8.6" rx="4" fill="url(#gcyl)"/><circle cx="0" cy="0" r="11.4" fill="url(#gpink)" stroke="#a85058" stroke-width="0.6" stroke-opacity="0.6"/><path d="M5.5,-8.4 C11,-10.2 18.5,-7 19.8,0 C18.5,7 11,10.2 5.5,8.4 Q9.5,0 5.5,-8.4Z" fill="url(#gcone)" stroke="#a04a55" stroke-width="0.7" stroke-opacity="0.7"/><path d="M9,-2.2 L19.6,0 L9,2.2 Z" fill="#fff4f2" opacity="0.9"/></g>
<g transform="translate(1080.2,910) rotate(-10)"><rect x="-22.5" y="-4.3" width="16" height="8.6" rx="4" fill="url(#gcyl)"/><circle cx="0" cy="0" r="11.4" fill="url(#gpink)" stroke="#a85058" stroke-width="0.6" stroke-opacity="0.6"/><path d="M5.5,-8.4 C11,-10.2 18.5,-7 19.8,0 C18.5,7 11,10.2 5.5,8.4 Q9.5,0 5.5,-8.4Z" fill="url(#gcone)" stroke="#a04a55" stroke-width="0.7" stroke-opacity="0.7"/><path d="M9,-2.2 L19.6,0 L9,2.2 Z" fill="#fff4f2" opacity="0.9"/></g>
<g transform="translate(996.5,953.8) rotate(-10)"><rect x="-22.5" y="-4.3" width="16" height="8.6" rx="4" fill="url(#gcyl)"/><circle cx="0" cy="0" r="11.4" fill="url(#gpink)" stroke="#a85058" stroke-width="0.6" stroke-opacity="0.6"/><path d="M5.5,-8.4 C11,-10.2 18.5,-7 19.8,0 C18.5,7 11,10.2 5.5,8.4 Q9.5,0 5.5,-8.4Z" fill="url(#gcone)" stroke="#a04a55" stroke-width="0.7" stroke-opacity="0.7"/><path d="M9,-2.2 L19.6,0 L9,2.2 Z" fill="#fff4f2" opacity="0.9"/></g>
<g transform="translate(912.5,997.3) rotate(-10)"><rect x="-22.5" y="-4.3" width="16" height="8.6" rx="4" fill="url(#gcyl)"/><circle cx="0" cy="0" r="11.4" fill="url(#gpink)" stroke="#a85058" stroke-width="0.6" stroke-opacity="0.6"/><path d="M5.5,-8.4 C11,-10.2 18.5,-7 19.8,0 C18.5,7 11,10.2 5.5,8.4 Q9.5,0 5.5,-8.4Z" fill="url(#gcone)" stroke="#a04a55" stroke-width="0.7" stroke-opacity="0.7"/><path d="M9,-2.2 L19.6,0 L9,2.2 Z" fill="#fff4f2" opacity="0.9"/></g>
<g transform="translate(1080.2,997.3) rotate(-10)"><rect x="-22.5" y="-4.3" width="16" height="8.6" rx="4" fill="url(#gcyl)"/><circle cx="0" cy="0" r="11.4" fill="url(#gpink)" stroke="#a85058" stroke-width="0.6" stroke-opacity="0.6"/><path d="M5.5,-8.4 C11,-10.2 18.5,-7 19.8,0 C18.5,7 11,10.2 5.5,8.4 Q9.5,0 5.5,-8.4Z" fill="url(#gcone)" stroke="#a04a55" stroke-width="0.7" stroke-opacity="0.7"/><path d="M9,-2.2 L19.6,0 L9,2.2 Z" fill="#fff4f2" opacity="0.9"/></g>
<g transform="translate(996.5,1039.3) rotate(-10)"><rect x="-22.5" y="-4.3" width="16" height="8.6" rx="4" fill="url(#gcyl)"/><circle cx="0" cy="0" r="11.4" fill="url(#gpink)" stroke="#a85058" stroke-width="0.6" stroke-opacity="0.6"/><path d="M5.5,-8.4 C11,-10.2 18.5,-7 19.8,0 C18.5,7 11,10.2 5.5,8.4 Q9.5,0 5.5,-8.4Z" fill="url(#gcone)" stroke="#a04a55" stroke-width="0.7" stroke-opacity="0.7"/><path d="M9,-2.2 L19.6,0 L9,2.2 Z" fill="#fff4f2" opacity="0.9"/></g>
<text transform="matrix(1.0728 0 0 1 1094.38 887.70)" font-family="'Liberation Sans', Arial, Helvetica, sans-serif" font-style="normal" font-weight="bold" font-size="30" fill="#e08890">m</text>
<text transform="matrix(1.0000 0 0 1 1124.45 895.50)" font-family="'Liberation Sans', Arial, Helvetica, sans-serif" font-style="normal" font-weight="normal" font-size="22" fill="#e08890">A</text>
<rect x="96.5" y="1085.5" width="270.5" height="92.5" rx="11.5" ry="11.5" fill="#fff" stroke="#363e52" stroke-width="2.4"/>
<rect x="96.5" y="1203" width="270.5" height="106.5" rx="11.5" ry="11.5" fill="#fff" stroke="#363e52" stroke-width="2.4"/>
<rect x="486.5" y="1085.5" width="270.5" height="92.0" rx="11.5" ry="11.5" fill="#fff" stroke="#363e52" stroke-width="2.4"/>
<rect x="486.5" y="1201.5" width="270.5" height="106.0" rx="11.5" ry="11.5" fill="#fff" stroke="#363e52" stroke-width="2.4"/>
<rect x="860" y="1086" width="270" height="93" rx="11.5" ry="11.5" fill="#fff" stroke="#363e52" stroke-width="2.4"/>
<rect x="860" y="1203.5" width="270" height="105.0" rx="11.5" ry="11.5" fill="#fff" stroke="#363e52" stroke-width="2.4"/>
<line x1="125.90" y1="1132.20" x2="184.20" y2="1132.20" stroke="#a8161f" stroke-width="2.5"/>
<path d="M193.00,1132.20 L179.00,1137.70 L183.20,1132.20 L179.00,1126.70 Z" fill="#a8161f"/>
<text transform="matrix(0.9782 0 0 1 209.54 1140.70)" font-family="'Liberation Sans', Arial, Helvetica, sans-serif" font-style="normal" font-weight="normal" font-size="31.5" fill="#a8161f">AH vector</text>
<line x1="563.60" y1="1165.00" x2="563.60" y2="1107.30" stroke="#a8161f" stroke-width="2.4"/>
<path d="M563.60,1098.50 L569.10,1112.50 L563.60,1108.30 L558.10,1112.50 Z" fill="#a8161f"/>
<text transform="matrix(0.9782 0 0 1 588.44 1140.70)" font-family="'Liberation Sans', Arial, Helvetica, sans-serif" font-style="normal" font-weight="normal" font-size="31.5" fill="#a8161f">AH vector</text>
<line x1="898.60" y1="1141.80" x2="957.53" y2="1125.10" stroke="#a8161f" stroke-width="2.4"/>
<path d="M966.00,1122.70 L954.03,1131.81 L956.57,1125.37 L951.03,1121.23 Z" fill="#a8161f"/>
<text transform="matrix(0.9825 0 0 1 979.94 1141.80)" font-family="'Liberation Sans', Arial, Helvetica, sans-serif" font-style="normal" font-weight="normal" font-size="31.5" fill="#a8161f">AH vector</text>
<text transform="matrix(1.1267 0 0 1 126.00 1263.70)" font-family="'Liberation Sans', Arial, Helvetica, sans-serif" font-style="normal" font-weight="bold" font-size="31" fill="#2f9a4f">p</text>
<line x1="202.40" y1="1256.30" x2="164.20" y2="1256.30" stroke="#2f9a4f" stroke-width="2.2"/>
<path d="M156.10,1256.30 L169.10,1250.80 L165.20,1256.30 L169.10,1261.80 Z" fill="#2f9a4f"/>
<circle cx="224.6" cy="1257.2" r="10" fill="none" stroke="#111" stroke-width="2.3"/><circle cx="224.6" cy="1257.2" r="2.6" fill="#111"/>
<text transform="matrix(1.0389 0 0 1 244.88 1263.70)" font-family="'Liberation Sans', Arial, Helvetica, sans-serif" font-style="normal" font-weight="bold" font-size="29.5" fill="#111">n</text>
<text transform="matrix(1.0723 0 0 1 309.58 1264.60)" font-family="'Liberation Sans', Arial, Helvetica, sans-serif" font-style="normal" font-weight="bold" font-size="29.5" fill="#2a4fa0">D</text>
<line x1="285.40" y1="1284.10" x2="285.40" y2="1225.50" stroke="#2a4fa0" stroke-width="2.2"/>
<path d="M285.40,1217.40 L290.90,1230.40 L285.40,1226.50 L279.90,1230.40 Z" fill="#2a4fa0"/>
<text transform="matrix(1.1267 0 0 1 505.40 1262.00)" font-family="'Liberation Sans', Arial, Helvetica, sans-serif" font-style="normal" font-weight="bold" font-size="31" fill="#2f9a4f">p</text>
<line x1="581.10" y1="1253.50" x2="543.80" y2="1253.50" stroke="#2f9a4f" stroke-width="2.2"/>
<path d="M535.70,1253.50 L548.70,1248.00 L544.80,1253.50 L548.70,1259.00 Z" fill="#2f9a4f"/>
<circle cx="604" cy="1253.5" r="10" fill="none" stroke="#111" stroke-width="2.3"/><circle cx="604" cy="1253.5" r="2.6" fill="#111"/>
<text transform="matrix(1.0389 0 0 1 623.58 1262.00)" font-family="'Liberation Sans', Arial, Helvetica, sans-serif" font-style="normal" font-weight="bold" font-size="29.5" fill="#111">n</text>
<text transform="matrix(1.1221 0 0 1 707.49 1262.90)" font-family="'Liberation Sans', Arial, Helvetica, sans-serif" font-style="normal" font-weight="bold" font-size="29.5" fill="#2a4fa0">D</text>
<line x1="701.60" y1="1253.50" x2="659.90" y2="1253.50" stroke="#2a4fa0" stroke-width="2.2"/>
<path d="M651.80,1253.50 L664.80,1248.00 L660.90,1253.50 L664.80,1259.00 Z" fill="#2a4fa0"/>
<text transform="matrix(1.1267 0 0 1 892.70 1261.90)" font-family="'Liberation Sans', Arial, Helvetica, sans-serif" font-style="normal" font-weight="bold" font-size="31" fill="#2f9a4f">p</text>
<line x1="967.40" y1="1254.00" x2="930.10" y2="1254.00" stroke="#2f9a4f" stroke-width="2.2"/>
<path d="M922.00,1254.00 L935.00,1248.50 L931.10,1254.00 L935.00,1259.50 Z" fill="#2f9a4f"/>
<circle cx="989.4" cy="1254" r="10" fill="none" stroke="#111" stroke-width="2.3"/><circle cx="989.4" cy="1254" r="2.6" fill="#111"/>
<text transform="matrix(1.0389 0 0 1 1010.78 1261.90)" font-family="'Liberation Sans', Arial, Helvetica, sans-serif" font-style="normal" font-weight="bold" font-size="29.5" fill="#111">n</text>
<text transform="matrix(1.0502 0 0 1 1073.73 1262.80)" font-family="'Liberation Sans', Arial, Helvetica, sans-serif" font-style="normal" font-weight="bold" font-size="29.5" fill="#2a4fa0">D</text>
<line x1="1061.10" y1="1279.40" x2="1047.31" y2="1232.96" stroke="#2a4fa0" stroke-width="2.2"/>
<path d="M1045.00,1225.20 L1053.97,1236.10 L1047.59,1233.92 L1043.43,1239.23 Z" fill="#2a4fa0"/>
</svg></body></html>
